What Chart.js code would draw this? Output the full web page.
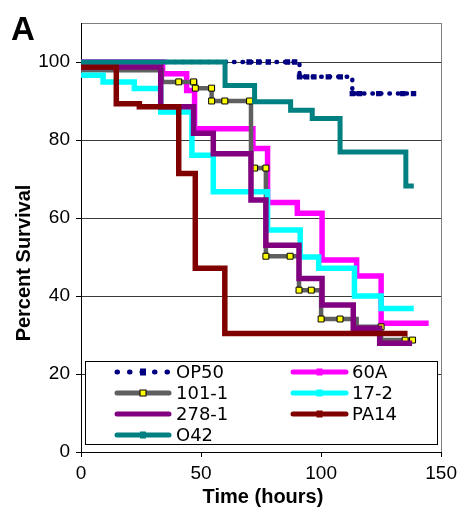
<!DOCTYPE html>
<html>
<head>
<meta charset="utf-8">
<script src="https://cdn.jsdelivr.net/npm/chart.js@4.4.1/dist/chart.umd.min.js"></script>
<style>
  html, body { margin: 0; padding: 0; background: #fff; }
  #wrap { width: 462px; height: 507px; }
</style>
</head>
<body>
<div id="wrap"><canvas id="survivalChart" width="462" height="507"></canvas></div>
<script>
// legend order as in the figure (row by row)
const seriesLabels = ["OP50", "60A", "101-1", "17-2", "278-1", "PA14", "O42"];
const xTickValues = [0, 50, 100, 150];
const yTickValues = [0, 20, 40, 60, 80, 100];

// survival curves: hours where a step starts, percent alive from there on
const op50Hours = [0, 70, 74, 78, 86, 89, 91, 94, 97, 103, 108, 113, 116, 124, 134, 138.5];
const op50Survival = [100, 100, 100, 100, 100, 100, 96.2, 96.2, 96.2, 96.2, 96.2, 91.9, 91.9, 91.9, 91.9, 91.9];
const op50Marked = [0, 1, 1, 1, 1, 1, 1, 1, 1, 1, 1, 1, 1, 1, 1, 1];

const a60Hours = [0, 34, 44, 47.3, 71.6, 77.7, 90.1, 100.4, 114.8, 125, 144.8];
const a60Survival = [100, 97, 92.7, 82.9, 77.8, 64.0, 61.2, 49.2, 45.1, 33.0, 33.0];

const s101Hours = [0, 33.7, 40.7, 46.9, 47.6, 54.4, 54.4, 59.9, 70.2, 70.8, 72.3, 77, 77, 87.1, 90.8, 95.9, 100, 107.9, 114.8, 125, 125, 135, 138.1];
const s101Survival = [97.9, 94.9, 94.9, 94.9, 93.3, 93.3, 90, 90, 90, 72.8, 72.8, 72.8, 50.2, 50.2, 41.5, 41.5, 34.1, 34.1, 32.1, 32.1, 28.7, 28.7, 28.7];
const s101Marked = [0, 0, 1, 1, 1, 1, 1, 1, 1, 0, 1, 1, 1, 1, 1, 1, 1, 1, 0, 1, 0, 1, 1];

const s17Hours = [0, 9.2, 22.2, 33.2, 46.2, 55.1, 77.7, 91.3, 99, 113.9, 125, 138.6];
const s17Survival = [96.6, 94.9, 93.2, 87.2, 76.1, 66.7, 56.9, 50.0, 47.1, 40.0, 36.8, 36.8];

const s278Hours = [0, 33.2, 46.9, 55.1, 70.8, 77.0, 90.8, 100.4, 113.4, 124.4, 137.9];
const s278Survival = [98.7, 88.5, 81.7, 76.5, 64.6, 53.0, 44.5, 37.7, 31.7, 27.9, 27.9];

const pa14Hours = [0, 14.7, 24.3, 40.7, 47.6, 59.9, 136];
const pa14Survival = [98.7, 89.3, 88.5, 71.4, 47.1, 30.4, 30.4];

const o42Hours = [0, 60, 72.3, 87.3, 96.3, 107.9, 135.3, 138.6];
const o42Survival = [100, 94.0, 89.8, 87.6, 85.5, 76.9, 68.2, 68.2];

const seriesColors = ["#000080", "#FF00FF", "#5F5F5F", "#00FFFF", "#800080", "#800000", "#008080"];
const seriesWidths = [4.5, 5.5, 4.5, 5.5, 5.5, 5.5, 5];

function toPoints(hours, survival) {
    return hours.map((h, i) => ({ x: h, y: survival[i] }));
}

const seriesData = [
    toPoints(op50Hours, op50Survival),
    toPoints(a60Hours, a60Survival),
    toPoints(s101Hours, s101Survival),
    toPoints(s17Hours, s17Survival),
    toPoints(s278Hours, s278Survival),
    toPoints(pa14Hours, pa14Survival),
    toPoints(o42Hours, o42Survival)
];

const datasets = seriesLabels.map((label, i) => {
    const ds = {
        label,
        data: seriesData[i],
        stepped: "before",
        borderColor: seriesColors[i],
        backgroundColor: seriesColors[i],
        borderWidth: seriesWidths[i],
        borderJoinStyle: "miter",
        borderCapStyle: "butt",
        pointRadius: 0,
        fill: false,
        order: seriesLabels.length - i
    };
    if (label === "OP50") {
        ds.borderDash = [0.5, 8];
        ds.borderCapStyle = "round";
        ds.pointStyle = "rect";
        ds.pointRadius = op50Marked.map(m => m ? 3.8 : 0);
        ds.pointBorderWidth = 0;
    }
    if (label === "101-1") {
        ds.pointStyle = "rect";
        ds.pointRadius = s101Marked.map(m => m ? 4.2 : 0);
        ds.pointBackgroundColor = "#FFFF00";
        ds.pointBorderColor = "#000000";
        ds.pointBorderWidth = 1;
    }
    return ds;
});

function drawLegend(chart) {
    const ctx = chart.ctx;
    ctx.save();
    ctx.fillStyle = "#ffffff";
    ctx.fillRect(85.5, 361.5, 352, 83);
    ctx.strokeStyle = "#000000";
    ctx.lineWidth = 1;
    ctx.strokeRect(85.5, 361.5, 352, 83);

    ctx.font = "18px 'DejaVu Sans'";
    ctx.textBaseline = "middle";
    ctx.textAlign = "left";

    seriesLabels.forEach((label, i) => {
        const col = i % 2;
        const row = Math.floor(i / 2);
        const y = 372 + row * 21;
        const x0 = col === 0 ? 117 : 293;
        const x1 = col === 0 ? 169 : 346;
        const mid = (x0 + x1) / 2;
        const color = seriesColors[i];

        ctx.strokeStyle = color;
        ctx.lineCap = "round";
        ctx.beginPath();
        if (label === "OP50") {
            ctx.lineWidth = 5;
            ctx.setLineDash([0.5, 12]);
        } else {
            ctx.lineWidth = 5;
            ctx.setLineDash([]);
        }
        ctx.moveTo(x0, y);
        ctx.lineTo(x1, y);
        ctx.stroke();
        ctx.setLineDash([]);

        if (label === "101-1") {
            ctx.fillStyle = "#FFFF00";
            ctx.fillRect(mid - 3, y - 3, 6, 6);
            ctx.strokeStyle = "#000000";
            ctx.lineWidth = 1;
            ctx.strokeRect(mid - 3, y - 3, 6, 6);
        } else if (label !== "278-1") {
            ctx.fillStyle = color;
            ctx.fillRect(mid - 3, y - 3.5, 6, 7);
        }

        ctx.fillStyle = "#000000";
        ctx.fillText(label, col === 0 ? 176 : 352, y + 1);
    });
    ctx.restore();
}

const labelsPlugin = {
    id: "figureLabels",
    afterDatasetsDraw(chart) {
        drawLegend(chart);
    },
    afterDraw(chart) {
        const ctx = chart.ctx;
        ctx.save();
        ctx.fillStyle = "#000000";
        ctx.textAlign = "left";
        ctx.textBaseline = "alphabetic";
        ctx.font = "bold 33px 'Liberation Sans', Arial";
        ctx.fillText("A", 11, 40);

        ctx.font = "bold 20px 'Liberation Sans', Arial";
        ctx.textAlign = "center";
        ctx.textBaseline = "middle";
        ctx.fillText("Time (hours)", 263, 497);

        ctx.translate(24, 263);
        ctx.rotate(-Math.PI / 2);
        ctx.fillText("Percent Survival", 0, 0);
        ctx.restore();
    }
};

new Chart(document.getElementById("survivalChart"), {
    type: "line",
    data: { datasets },
    plugins: [labelsPlugin],
    options: {
        responsive: false,
        animation: false,
        events: [],
        layout: {
            padding: { top: 23, right: 16, left: 0, bottom: 0 }
        },
        plugins: {
            legend: { display: false },
            tooltip: { enabled: false }
        },
        scales: {
            x: {
                type: "linear",
                min: 0,
                max: 150,
                afterBuildTicks: scale => {
                    scale.ticks = xTickValues.map(v => ({ value: v }));
                },
                afterFit: scale => {
                    scale.height = 55;
                },
                border: { color: "#000000", width: 1 },
                grid: {
                    color: ctx => ctx.tick && ctx.tick.value === 150 ? "#808080" : "rgba(0,0,0,0)",
                    tickColor: "#000000",
                    tickLength: 5,
                    lineWidth: 1
                },
                ticks: {
                    color: "#000000",
                    padding: 5,
                    maxRotation: 0,
                    font: { family: "'Liberation Sans', Arial", size: 19 }
                }
            },
            y: {
                type: "linear",
                min: 0,
                max: 110,
                afterBuildTicks: scale => {
                    scale.ticks = yTickValues.concat([110]).map(v => ({ value: v }));
                },
                afterFit: scale => {
                    scale.width = 81;
                },
                border: { color: "#000000", width: 1 },
                grid: {
                    color: ctx => {
                        if (!ctx.tick) return "#404040";
                        if (ctx.tick.value === 110) return "#808080";
                        return "#3a3a3a";
                    },
                    tickColor: ctx => ctx.tick && ctx.tick.value === 110 ? "rgba(0,0,0,0)" : "#000000",
                    tickLength: 5,
                    lineWidth: 1
                },
                ticks: {
                    color: "#000000",
                    padding: 6,
                    callback: v => v === 110 ? "" : v,
                    font: { family: "'Liberation Sans', Arial", size: 19 }
                }
            }
        }
    }
});
</script>
</body>
</html>
